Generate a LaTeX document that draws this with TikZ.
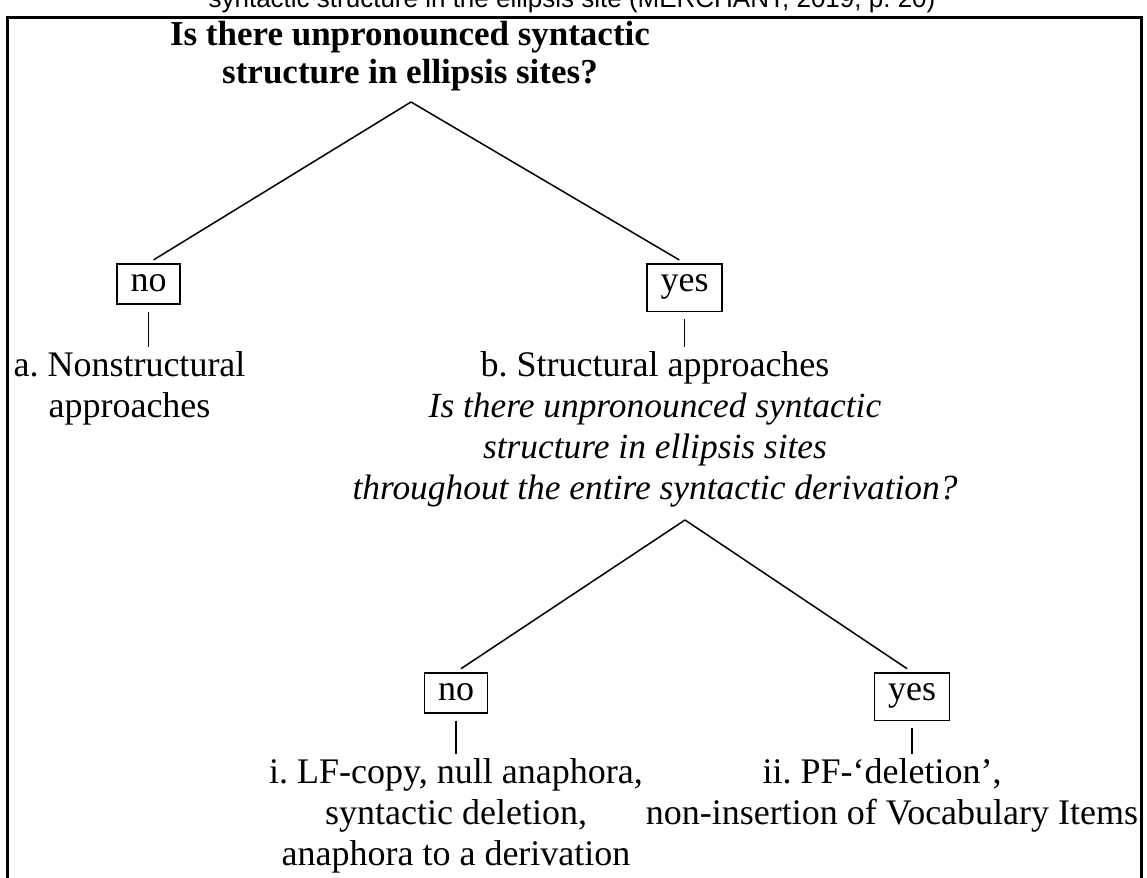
\documentclass[tikz,border=0pt]{standalone}
\usepackage{fontspec}
\setmainfont{Liberation Serif}
\newfontfamily\capfont{Liberation Sans}
\frenchspacing
\begin{document}
\begin{tikzpicture}[x=1pt,y=-1pt,
  txt/.style={inner sep=0pt, anchor=base, font=\fontsize{36}{42}\selectfont},
  ttl/.style={inner sep=0pt, anchor=base, font=\fontsize{35}{42}\selectfont\bfseries},
  itx/.style={inner sep=0pt, anchor=base, font=\fontsize{35.4}{42}\selectfont\itshape},
  ansbox/.style={draw, line width=1.5pt, inner xsep=13.5pt, inner ysep=12pt, text height=16pt, anchor=north, font=\fontsize{36}{42}\selectfont},
  branch/.style={line width=1.5pt, shorten >=6pt},
  stem/.style={line width=1.5pt, shorten <=7pt, shorten >=4pt}]
\useasboundingbox (0,0) rectangle (1147,877);
% caption (cut off at top)
\node[inner sep=0pt, anchor=base, font=\capfont\fontsize{26}{30}\selectfont] (cap) at (572,8) {syntactic structure in the ellipsis site (MERCHANT, 2019, p. 20)};
% frame
\draw[line width=3pt] (7,880) -- (7,18) -- (1141,18) -- (1141,880);
% title
\node[ttl] (t1) at (410,46) {Is there unpronounced syntactic};
\node[ttl] (t2) at (410,84) {structure in ellipsis sites?};
\coordinate (ap1) at (411,102);
% first level
\node[ansbox, text depth=0pt] (no1) at (148.5,263) {no};
\node[ansbox, text depth=7.5pt] (yes1) at (684.5,263) {yes};
\draw[branch] (ap1) -- (no1.north);
\draw[branch] (ap1) -- (yes1.north);
\node[txt] (a1) at (129.5,376) {a. Nonstructural};
\node[txt] (a2) at (129.5,417) {approaches};
\node[txt] (b1) at (655,376) {b. Structural approaches};
\node[itx] (b2) at (655,417) {Is there unpronounced syntactic};
\node[itx] (b3) at (655,458) {structure in ellipsis sites};
\node[itx] (b4) at (655,499) {throughout the entire syntactic derivation?};
\draw[stem] (no1.south) -- (no1.south |- a1.north);
\draw[stem] (yes1.south) -- (yes1.south |- b1.north);
% second level
\coordinate (ap2) at (685,520);
\node[ansbox, text depth=0pt] (no2) at (456,672) {no};
\node[ansbox, text depth=7.5pt] (yes2) at (912,672) {yes};
\draw[branch] (ap2) -- (no2.north);
\draw[branch] (ap2) -- (yes2.north);
\node[txt] (i1) at (456,783) {i. LF-copy, null anaphora,};
\node[txt] (i2) at (456,824) {syntactic deletion,};
\node[txt] (i3) at (456,865) {anaphora to a derivation};
\node[txt] (ii1) at (882,783) {ii. PF-‘deletion’,};
\node[txt] (ii2) at (892,824) {non-insertion of Vocabulary Items};
\draw[stem] (no2.south) -- (no2.south |- i1.north);
\draw[stem] (yes2.south) -- (yes2.south |- ii1.north);
\end{tikzpicture}
\end{document}
